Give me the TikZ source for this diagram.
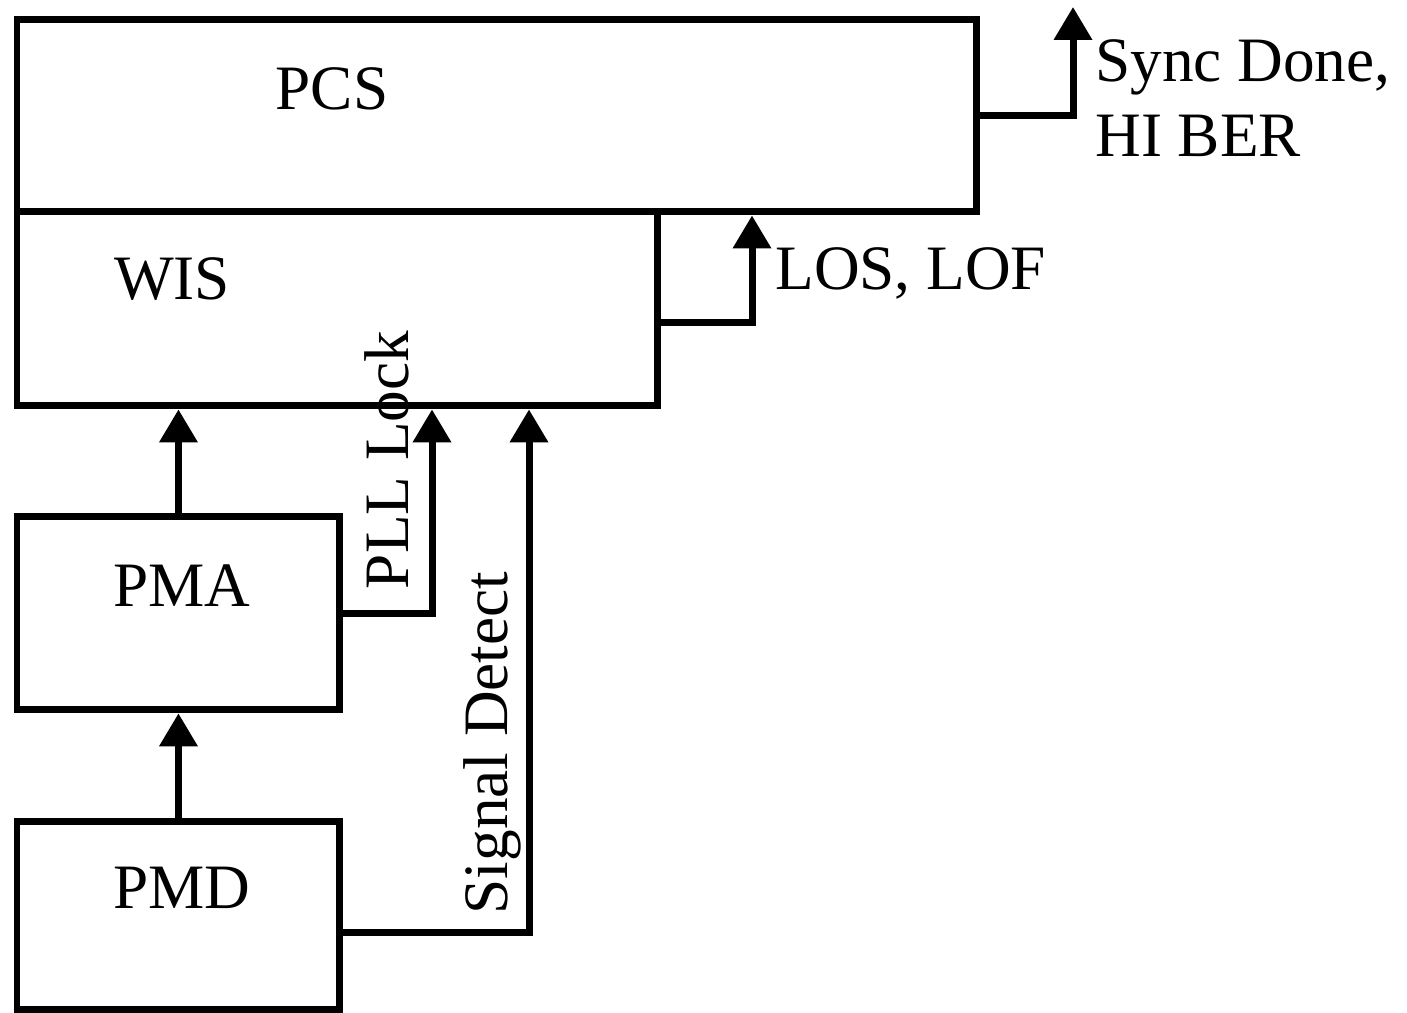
\documentclass[tikz,border=0pt]{standalone}
\usepackage{fontspec}
\setmainfont{Liberation Serif}
\usetikzlibrary{arrows.meta,positioning}
\tikzset{
  layerbox/.style={
    draw=black,
    line width=0.14cm,
    inner sep=0pt
  },
  layername/.style={
    font=\fontsize{36}{43}\selectfont,
    inner sep=0pt,
    anchor=base
  },
  sidelabel/.style={
    font=\fontsize{36}{43}\selectfont,
    inner sep=0pt
  },
  arrow/.style={
    -{Triangle[length=0.66cm,width=0.74cm]},
    line width=0.14cm
  }
}

\begin{document}
\begin{tikzpicture}[x=0.02cm,y=-0.02cm]
\useasboundingbox (0,0) rectangle (1407,1013);
\node[layerbox, anchor=north west, minimum width=19.2cm, minimum height=3.84cm] (pcs) at (13.5,16.5) {};
\node[layerbox, below right=-0.14cm and 0cm of pcs.south west, minimum width=12.82cm, minimum height=3.88cm] (wis) {};
\node[layerbox, below right=2.08cm and 0cm of wis.south west, minimum width=6.46cm, minimum height=3.86cm] (pma) {};
\node[layerbox, below right=2.1cm and 0cm of pma.south west, minimum width=6.46cm, minimum height=3.76cm] (pmd) {};
\node[layername] (pcsname) at (332,110) {PCS};
\node[layername] (wisname) at (172,300) {WIS};
\node[layername] (pmaname) at (182,606) {PMA};
\node[layername] (pmdname) at (182,908) {PMD};
\coordinate (pllx) at (432,0);
\coordinate (sigx) at (529,0);
\coordinate (losx) at (752,0);
\coordinate (syncend) at (1073,7);
\draw[arrow] (pma.north) -- (pma.north |- wis.south);
\draw[arrow] (pmd.north) -- (pmd.north |- pma.south);
\draw[arrow] (pma.east) -| (wis.south -| pllx);
\draw[arrow] ([yshift=-0.34cm]pmd.east) -| (wis.south -| sigx);
\draw[arrow] ([yshift=-0.28cm]wis.east) -| (pcs.south -| losx);
\draw[arrow] (pcs.east) -| (syncend);
\node[sidelabel, rotate=90, anchor=base] (plllabel) at (408,460) {PLL Lock};
\node[sidelabel, rotate=90, anchor=base] (siglabel) at (507,743) {Signal Detect};
\node[sidelabel, anchor=base west] (loslabel) at (775,290) {LOS, LOF};
\node[sidelabel, anchor=base west, align=left] (synclabel) at (1095,157) {Sync Done,\\HI BER};
\end{tikzpicture}
\end{document}
